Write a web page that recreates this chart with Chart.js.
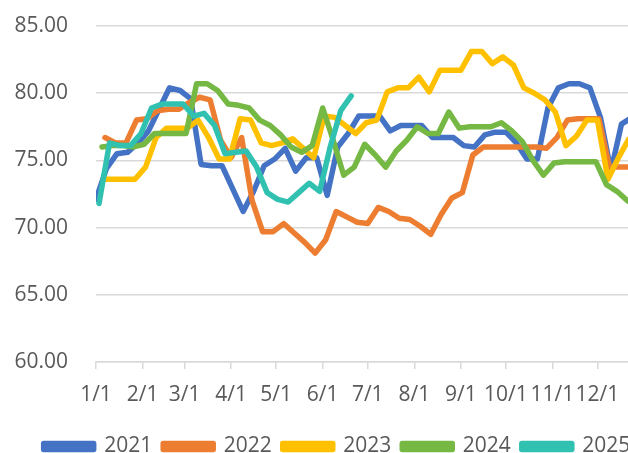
<!DOCTYPE html>
<html>
<head>
<meta charset="utf-8">
<script src="https://cdn.jsdelivr.net/npm/chart.js@4/dist/chart.umd.min.js"></script>
<style>
  html, body { margin: 0; padding: 0; background: #fff; overflow: hidden; }
  #wrap { width: 628px; height: 453px; overflow: hidden; }
</style>
</head>
<body>
<div id="wrap"><canvas id="priceChart" width="674" height="467"></canvas></div>
<script>
// Eixo X: dia do ano em que começa cada mês
const monthDays = [0, 31, 59, 90, 120, 151, 181, 212, 243, 273, 304, 334];
const monthLabels = ["1/1", "2/1", "3/1", "4/1", "5/1", "6/1", "7/1", "8/1", "9/1", "10/1", "11/1", "12/1"];

// Séries semanais (sexta-feira), primeiro dia de cada ano
const years = ["2021", "2022", "2023", "2024", "2025"];
const firstDay = [0, 6, 5, 4, 2];

const s2021 = [72.1, 74.4, 75.5, 75.6, 76.3, 77.2, 78.8, 80.4, 80.2, 79.6,
  74.7, 74.6, 74.6, 72.9, 71.2, 72.7, 74.6, 75.1, 75.9, 74.2,
  75.2, 75.2, 72.4, 76.0, 77.0, 78.3, 78.3, 78.3, 77.2, 77.6,
  77.6, 77.6, 76.7, 76.7, 76.7, 76.1, 76.0, 76.9, 77.1, 77.1,
  76.3, 75.1, 75.1, 78.9, 80.4, 80.7, 80.7, 80.4, 78.2, 74.2,
  77.7, 78.2];
const s2022 = [76.7, 76.3, 76.3, 78.0, 78.1, 78.7, 78.8, 78.8, 79.3, 79.7,
  79.5, 76.5, 75.2, 76.7, 72.0, 69.7, 69.7, 70.3, 69.6, 68.9,
  68.1, 69.1, 71.2, 70.8, 70.4, 70.3, 71.5, 71.2, 70.7, 70.6,
  70.1, 69.5, 71.0, 72.2, 72.6, 75.4, 76.0, 76.0, 76.0, 76.0,
  76.0, 76.0, 75.9, 76.7, 78.0, 78.1, 78.1, 78.1, 74.5, 74.5,
  74.5, 74.5];
const s2023 = [73.6, 73.6, 73.6, 73.6, 74.5, 76.7, 77.4, 77.4, 77.4, 78.0,
  76.7, 75.1, 75.1, 78.1, 78.0, 76.3, 76.1, 76.3, 76.6, 75.9,
  75.2, 78.3, 78.2, 77.6, 77.0, 77.8, 78.0, 80.1, 80.4, 80.4,
  81.2, 80.1, 81.7, 81.7, 81.7, 83.1, 83.1, 82.2, 82.7, 82.1,
  80.4, 80.0, 79.5, 78.6, 76.1, 76.8, 78.0, 78.0, 73.6, 75.2,
  76.6];
const s2024 = [76.0, 76.1, 76.1, 76.0, 76.2, 77.0, 77.0, 77.0, 77.0, 80.7,
  80.7, 80.2, 79.2, 79.1, 78.9, 78.0, 77.6, 76.9, 76.0, 75.6,
  76.1, 78.9, 76.5, 73.9, 74.5, 76.2, 75.4, 74.5, 75.7, 76.5,
  77.5, 77.0, 77.0, 78.6, 77.4, 77.5, 77.5, 77.5, 77.8, 77.2,
  76.4, 75.0, 73.9, 74.8, 74.9, 74.9, 74.9, 74.9, 73.2, 72.7,
  72.0, 71.5];
const s2025 = [71.8, 76.3, 76.1, 76.1, 77.0, 78.9, 79.2, 79.2, 79.2, 78.3,
  78.5, 77.6, 75.5, 75.6, 75.7, 74.5, 72.6, 72.1, 71.9, 72.6,
  73.3, 72.7, 76.0, 78.7, 79.8];

const seriesValues = [s2021, s2022, s2023, s2024, s2025];
const seriesColors = ["#4472C4", "#ED7D31", "#FFC000", "#75B843", "#30C1B1"];

const textColor = "#595959";
const gridColor = "#d9d9d9";
const baseFont = { family: "'Open Sans', sans-serif", size: 21 };

function buildDatasets() {
  const sets = years.map((year, i) => ({
    label: year,
    data: seriesValues[i].map((v, k) => ({ x: firstDay[i] + 7 * k, y: v })),
    borderColor: seriesColors[i],
    backgroundColor: seriesColors[i],
    borderWidth: 5.5,
    borderCapStyle: "round",
    borderJoinStyle: "round",
    pointRadius: 0,
    tension: 0,
    fill: false
  }));
  // a última série fica por cima, como no Excel
  return sets.reverse();
}

new Chart(document.getElementById("priceChart"), {
  type: "line",
  data: { datasets: buildDatasets() },
  options: {
    responsive: false,
    animation: false,
    layout: { padding: { left: 0, top: 26, right: 0, bottom: 0 } },
    plugins: {
      tooltip: { enabled: false },
      legend: {
        position: "bottom",
        reverse: true,
        labels: {
          color: textColor,
          font: baseFont,
          boxWidth: 50,
          boxHeight: 6,
          padding: 11
        }
      }
    },
    scales: {
      x: {
        type: "linear",
        min: 0,
        max: 385,
        afterBuildTicks: (scale) => {
          scale.ticks = monthDays.map(v => ({ value: v }));
        },
        afterFit: (scale) => { scale.height = 63; },
        ticks: {
          autoSkip: false,
          maxRotation: 0,
          color: textColor,
          font: baseFont,
          padding: 13,
          callback: (value) => {
            const idx = monthDays.indexOf(value);
            return idx >= 0 ? monthLabels[idx] : "";
          }
        },
        grid: {
          drawOnChartArea: false,
          drawTicks: true,
          tickLength: 7,
          color: gridColor,
          lineWidth: 1.5
        },
        border: { display: true, color: gridColor, width: 1.5 }
      },
      y: {
        min: 60,
        max: 85,
        afterFit: (scale) => {
          scale.width = 96;
          scale.paddingTop = 0;
          scale.paddingBottom = 0;
        },
        ticks: {
          stepSize: 5,
          color: textColor,
          font: baseFont,
          padding: 28,
          callback: (value) => value.toFixed(2)
        },
        grid: { color: gridColor, lineWidth: 1.5, drawTicks: false },
        border: { display: false }
      }
    }
  }
});
</script>
</body>
</html>
